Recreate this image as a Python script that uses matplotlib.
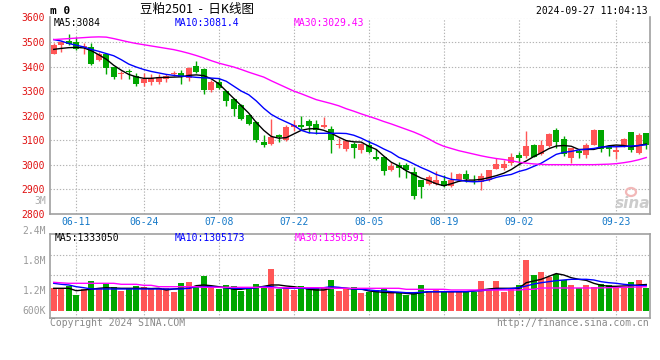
import matplotlib
matplotlib.use('Agg')
import matplotlib.pyplot as plt
from matplotlib.patches import Ellipse
import numpy as np

# trading days shown (mm-dd)
dates = ['06-05', '06-06', '06-07', '06-11', '06-12', '06-13', '06-14',
         '06-17', '06-18', '06-19', '06-20', '06-21',
         '06-24', '06-25', '06-26', '06-27', '06-28',
         '07-01', '07-02', '07-03', '07-04', '07-05',
         '07-08', '07-09', '07-10', '07-11', '07-12',
         '07-15', '07-16', '07-17', '07-18', '07-19',
         '07-22', '07-23', '07-24', '07-25', '07-26',
         '07-29', '07-30', '07-31', '08-01', '08-02',
         '08-05', '08-06', '08-07', '08-08', '08-09',
         '08-12', '08-13', '08-14', '08-15', '08-16',
         '08-19', '08-20', '08-21', '08-22', '08-23',
         '08-26', '08-27', '08-28', '08-29', '08-30',
         '09-02', '09-03', '09-04', '09-05', '09-06',
         '09-09', '09-10', '09-11', '09-12', '09-13',
         '09-18', '09-19', '09-20',
         '09-23', '09-24', '09-25', '09-26', '09-27']
tick_dates = ['06-11', '06-24', '07-08', '07-22', '08-05', '08-19', '09-02', '09-23']

opens = [3453, 3488, 3504, 3500, 3478, 3478, 3425, 3453, 3397, 3369,
         3382, 3362, 3331, 3335, 3337, 3348, 3370, 3373, 3352, 3402,
         3389, 3306, 3338, 3300, 3268, 3244, 3203, 3172, 3092, 3085,
         3121, 3102, 3154, 3163, 3177, 3164, 3154, 3146, 3081, 3064,
         3084, 3059, 3082, 3032, 3032, 2978, 2998, 2998, 2968, 2937,
         2920, 2923, 2933, 2914, 2937, 2960, 2934, 2930, 2937, 2982,
         2986, 3007, 3041, 3034, 3082, 3045, 3076, 3140, 3105, 3027,
         3055, 3041, 3082, 3140, 3078, 3052, 3078, 3133, 3048, 3130]
highs = [3495, 3503, 3531, 3520, 3494, 3497, 3458, 3457, 3399, 3383,
         3389, 3372, 3372, 3371, 3371, 3371, 3382, 3385, 3397, 3421,
         3396, 3345, 3355, 3302, 3270, 3247, 3206, 3180, 3122, 3187,
         3127, 3160, 3183, 3199, 3185, 3184, 3194, 3156, 3108, 3098,
         3093, 3088, 3100, 3062, 3035, 3009, 3012, 3007, 2991, 2938,
         2957, 2973, 2957, 2971, 2967, 2980, 2957, 2967, 2979, 3029,
         3018, 3048, 3051, 3137, 3083, 3100, 3130, 3148, 3116, 3068,
         3064, 3089, 3144, 3141, 3080, 3076, 3110, 3135, 3130, 3131]
lows = [3450, 3460, 3487, 3466, 3450, 3408, 3422, 3370, 3349, 3349,
        3351, 3321, 3320, 3324, 3328, 3338, 3362, 3327, 3340, 3374,
        3290, 3297, 3308, 3241, 3197, 3183, 3163, 3091, 3071, 3079,
        3092, 3098, 3136, 3146, 3129, 3125, 3149, 3047, 3068, 3054,
        3028, 3046, 3046, 3018, 2957, 2976, 2950, 2944, 2859, 2865,
        2919, 2916, 2907, 2910, 2934, 2930, 2923, 2896, 2934, 2981,
        2979, 3000, 3000, 3027, 3030, 3041, 3073, 3068, 3034, 3007,
        3027, 3027, 3079, 3052, 3034, 3021, 3073, 3052, 3044, 3062]
closes = [3487, 3500, 3491, 3470, 3482, 3412, 3453, 3396, 3358, 3375,
          3376, 3328, 3351, 3355, 3358, 3360, 3374, 3358, 3395, 3378,
          3306, 3336, 3312, 3258, 3226, 3186, 3166, 3102, 3082, 3113,
          3111, 3152, 3163, 3152, 3157, 3143, 3163, 3099, 3085, 3095,
          3069, 3086, 3053, 3021, 2975, 2995, 2987, 2980, 2873, 2910,
          2948, 2937, 2912, 2939, 2960, 2941, 2928, 2953, 2978, 3002,
          3003, 3030, 3027, 3075, 3032, 3082, 3123, 3092, 3045, 3066,
          3048, 3079, 3140, 3062, 3062, 3058, 3103, 3060, 3120, 3082]

ma5 = [3470, 3474, 3477, 3478, 3476, 3465, 3448, 3430, 3405, 3385,
       3368, 3358, 3352, 3352, 3355, 3356, 3357, 3358, 3364, 3366,
       3363, 3350, 3330, 3300, 3270, 3240, 3210, 3172, 3140, 3115,
       3108, 3110, 3125, 3140, 3146, 3147, 3140, 3128, 3112, 3098,
       3093, 3092, 3075, 3062, 3035, 3010, 2995, 2975, 2960, 2945,
       2935, 2922, 2914, 2922, 2932, 2937, 2937, 2940, 2947, 2955,
       2965, 2980, 3000, 3015, 3033, 3048, 3065, 3076, 3078, 3075,
       3062, 3062, 3062, 3070, 3077, 3080, 3078, 3073, 3078, 3084]
ma10 = [3510, 3504, 3494, 3487, 3480, 3470, 3462, 3453, 3444, 3428,
        3410, 3398, 3388, 3380, 3374, 3368, 3364, 3361, 3359, 3356,
        3354, 3353, 3351, 3340, 3320, 3300, 3285, 3260, 3230, 3205,
        3188, 3174, 3160, 3140, 3130, 3128, 3128, 3128, 3128, 3127,
        3120, 3108, 3093, 3080, 3064, 3050, 3030, 3018, 3003, 2988,
        2975, 2960, 2950, 2940, 2937, 2932, 2930, 2932, 2938, 2948,
        2955, 2960, 2972, 2980, 2993, 3006, 3024, 3042, 3050, 3054,
        3060, 3063, 3066, 3072, 3073, 3073, 3074, 3076, 3078, 3081]
ma30 = [3510, 3512, 3514, 3516, 3518, 3520, 3521, 3520, 3514, 3507,
        3500, 3494, 3489, 3484, 3479, 3474, 3469, 3462, 3454, 3445,
        3435, 3424, 3414, 3406, 3398, 3388, 3377, 3367, 3357, 3342,
        3328, 3314, 3300, 3289, 3277, 3265, 3257, 3249, 3240, 3228,
        3218, 3207, 3197, 3187, 3176, 3166, 3155, 3144, 3133, 3120,
        3105, 3088, 3075, 3066, 3057, 3050, 3043, 3036, 3030, 3025,
        3021, 3016, 3010, 3006, 3003, 3001, 3000, 3000, 3000, 3000,
        3000, 3000, 3000, 3001, 3002, 3004, 3008, 3013, 3020, 3029]

# volume, in thousands of lots
volume = [1244, 1227, 1300, 1040, 1199, 1432, 1227, 1367, 1272, 1152,
          1244, 1300, 1272, 1227, 1227, 1227, 1132, 1384, 1412, 1272,
          1580, 1272, 1208, 1320, 1300, 1160, 1244, 1356, 1236, 1768,
          1199, 1255, 1188, 1292, 1255, 1255, 1255, 1460, 1160, 1208,
          1272, 1104, 1132, 1180, 1227, 1104, 1087, 1040, 1104, 1320,
          1160, 1208, 1160, 1132, 1160, 1160, 1115, 1432, 1180, 1432,
          1132, 1227, 1320, 2020, 1600, 1684, 1552, 1628, 1460, 1320,
          1244, 1320, 1272, 1348, 1320, 1272, 1272, 1404, 1460, 1244]
vma5 = [1227, 1227, 1227, 1160, 1180, 1200, 1227, 1244, 1235, 1227,
        1227, 1227, 1227, 1220, 1227, 1180, 1208, 1227, 1227, 1300,
        1320, 1300, 1272, 1244, 1199, 1199, 1227, 1244, 1283, 1320,
        1320, 1292, 1272, 1244, 1199, 1180, 1180, 1227, 1227, 1227,
        1208, 1208, 1152, 1132, 1113, 1104, 1104, 1085, 1068, 1104,
        1132, 1132, 1132, 1132, 1132, 1132, 1152, 1180, 1208, 1227,
        1227, 1227, 1227, 1384, 1432, 1479, 1560, 1640, 1600, 1524,
        1479, 1450, 1367, 1311, 1283, 1283, 1292, 1300, 1320, 1333]
vma10 = [1367, 1339, 1320, 1272, 1244, 1208, 1208, 1208, 1208, 1208,
         1208, 1208, 1208, 1208, 1208, 1208, 1208, 1208, 1227, 1272,
         1272, 1272, 1255, 1244, 1227, 1227, 1227, 1244, 1272, 1272,
         1244, 1227, 1227, 1227, 1227, 1227, 1244, 1272, 1255, 1227,
         1208, 1199, 1180, 1160, 1152, 1132, 1120, 1104, 1104, 1113,
         1132, 1132, 1132, 1132, 1132, 1132, 1152, 1160, 1180, 1199,
         1208, 1220, 1244, 1292, 1348, 1384, 1412, 1441, 1460, 1479,
         1479, 1479, 1460, 1412, 1384, 1367, 1339, 1320, 1300, 1305]
vma30 = [1395, 1380, 1367, 1367, 1367, 1367, 1367, 1367, 1367, 1339,
         1339, 1339, 1311, 1311, 1272, 1272, 1272, 1272, 1272, 1272,
         1255, 1255, 1255, 1255, 1255, 1255, 1255, 1255, 1255, 1244,
         1244, 1244, 1244, 1244, 1244, 1244, 1244, 1227, 1227, 1227,
         1227, 1227, 1227, 1227, 1227, 1227, 1227, 1199, 1199, 1199,
         1199, 1199, 1199, 1180, 1180, 1180, 1180, 1180, 1180, 1180,
         1180, 1180, 1180, 1199, 1199, 1236, 1236, 1236, 1236, 1236,
         1236, 1236, 1236, 1240, 1244, 1248, 1255, 1260, 1265, 1272]

price_ticks = [2800, 2900, 3000, 3100, 3200, 3300, 3400, 3500, 3600]

RED = '#ff5656'
GREEN = '#00a600'
GRID = '#b4b4b4'
BORDER = '#a0a0a0'
MONO = 'DejaVu Sans Mono'
DOTS = (0, (1.2, 1.6))

W, H = 660, 360
fig = plt.figure(figsize=(W / 100, H / 100), dpi=100)


def px_box(x0, y0, x1, y1):
    # pixel box measured from the top-left corner -> figure rect
    return [x0 / W, 1 - y1 / H, (x1 - x0) / W, (y1 - y0) / H]


def fx(px):
    return px / W


def fy(py):
    return 1 - py / H


x = np.arange(len(dates))
o = np.array(opens)
c = np.array(closes)
colors = np.where(c >= o, RED, GREEN)
tick_pos = [dates.index(d) for d in tick_dates]

# ---- price panel ----
ax = fig.add_axes(px_box(50, 17.5, 650, 213.7))
ax.vlines(x, lows, highs, colors=colors, lw=1, zorder=2)
body_h = np.maximum(np.abs(c - o), 3)
ax.bar(x, body_h, bottom=np.minimum(o, c), width=0.8, color=colors,
       linewidth=0, zorder=3)
ax.plot(x, ma5, color='black', lw=1, zorder=4)
ax.plot(x, ma10, color='#0000ff', lw=1, zorder=4)
ax.plot(x, ma30, color='#ff00ff', lw=1, zorder=4)

ax.set_xlim(-0.5, len(dates) - 0.5)
ax.set_ylim(price_ticks[0], price_ticks[-1])
ax.set_yticks(price_ticks)
ax.set_yticklabels([str(p) for p in price_ticks], family=MONO)
ax.set_xticks(tick_pos)
ax.set_xticklabels(tick_dates, family=MONO)
ax.tick_params(axis='y', length=0, pad=3.5, labelsize=7, labelcolor='#e01010')
ax.tick_params(axis='x', length=0, pad=2.5, labelsize=7, labelcolor='#1478c8')
ax.grid(True, color=GRID, linestyle=DOTS, lw=0.8, zorder=0)
ax.set_axisbelow(True)
ax.spines['top'].set_visible(False)
for s in ['left', 'right', 'bottom']:
    ax.spines[s].set_color(BORDER)
    ax.spines[s].set_linewidth(1.2)

# ---- volume panel ----
base = 600           # bars start at 600K
per_px = 28          # thousand lots per pixel
v_bottom = base - (318.3 - 310.7) * per_px
v_top = v_bottom + (318.3 - 234.3) * per_px

axv = fig.add_axes(px_box(50, 234.3, 650, 318.3))
vol = np.array(volume)
axv.bar(x, vol - base, bottom=base, width=0.8, color=colors, linewidth=0, zorder=2)
axv.plot(x, vma5, color='black', lw=1, zorder=3)
axv.plot(x, vma10, color='#0000ff', lw=1, zorder=3)
axv.plot(x, vma30, color='#ff00ff', lw=1, zorder=3)
axv.set_xlim(-0.5, len(dates) - 0.5)
axv.set_ylim(v_bottom, v_top)
axv.set_yticks([base + (310.7 - yy) * per_px for yy in (255.3, 275.3, 295.3)])
axv.set_xticks(tick_pos)
axv.set_xticklabels([])
axv.set_yticklabels([])
axv.tick_params(length=0)
axv.grid(True, color=GRID, linestyle=DOTS, lw=0.8, zorder=0)
axv.set_axisbelow(True)
for s in axv.spines.values():
    s.set_color(BORDER)
    s.set_linewidth(1.2)

for lab, yy in [('2.4M', 231), ('1.8M', 261), ('1.2M', 291), ('600K', 310.7)]:
    fig.text(fx(46), fy(yy), lab, ha='right', va='center', fontsize=7,
             family=MONO, color='#9a9a9a')

# ---- texts ----
fig.text(fx(50), fy(10.5), 'm 0', fontsize=8, family=MONO, fontweight='bold',
         va='center')
fig.text(fx(140), fy(9.5), '豆粕2501  -  日K线图', fontsize=9,
         family=['Noto Sans CJK SC', 'DejaVu Sans'], va='center')
fig.text(fx(648), fy(11.5), '2024-09-27 11:04:13', ha='right', va='center',
         fontsize=7, family=MONO)

fig.text(fx(54), fy(23.3), 'MA5:3084', fontsize=7, family=MONO, va='center')
fig.text(fx(175), fy(23.3), 'MA10:3081.4', fontsize=7, family=MONO,
         va='center', color='#0000ff')
fig.text(fx(294), fy(23.3), 'MA30:3029.43', fontsize=7, family=MONO,
         va='center', color='#ff00ff')

fig.text(fx(55), fy(238.3), 'MA5:1333050', fontsize=7, family=MONO, va='center')
fig.text(fx(175), fy(238.3), 'MA10:1305173', fontsize=7, family=MONO,
         va='center', color='#0000ff')
fig.text(fx(295), fy(238.3), 'MA30:1350591', fontsize=7, family=MONO,
         va='center', color='#ff00ff')

fig.text(fx(46), fy(200.5), '3M', ha='right', va='center', fontsize=7,
         family=MONO, color='#aaaaaa')

# sina watermark
fig.patches.append(Ellipse((fx(631), fy(192)), 10 / W, 8 / H,
                           transform=fig.transFigure, facecolor='none',
                           edgecolor='#f2b8b8', lw=1.6))
fig.text(fx(633), fy(204), 'sina', ha='center', va='center', fontsize=11,
         style='italic', fontweight='bold', color='#cccccc')

fig.text(fx(50), fy(323.5), 'Copyright 2024 SINA.COM', va='center', fontsize=7,
         family=MONO, color='#888888')
fig.text(fx(649), fy(323.5), 'http://finance.sina.com.cn', ha='right',
         va='center', fontsize=7, family=MONO, color='#888888')

fig.savefig('out.png', dpi=100)
